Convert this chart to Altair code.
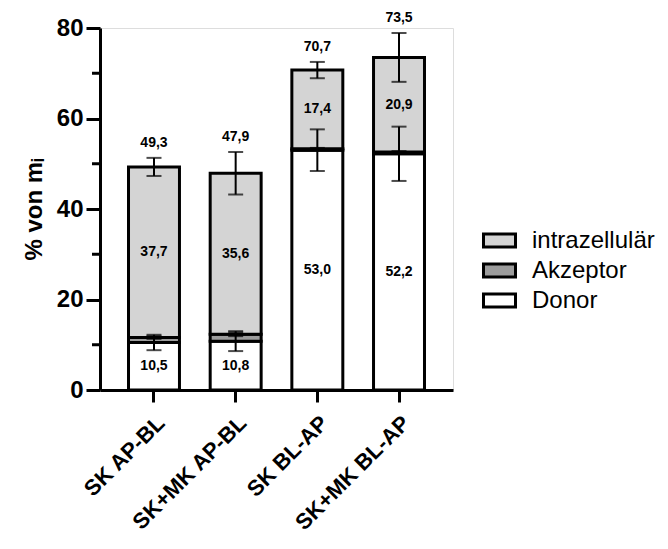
import altair as alt
import pandas as pd

groups = ["SK AP-BL", "SK+MK AP-BL", "SK BL-AP", "SK+MK BL-AP"]
donor = [10.5, 10.8, 53.0, 52.2]
donor_err = [1.7, 2.2, 4.6, 6.0]
akzeptor = [1.1, 1.5, 0.3, 0.4]
akzeptor_err = [0.3, 0.4, 0.2, 0.2]
intra = [37.7, 35.6, 17.4, 20.9]
intra_err = [2.0, 4.7, 1.8, 5.4]
minor_ticks = [10, 30, 50, 70]

series = ["Donor", "Akzeptor", "intrazellulär"]
vals = {"Donor": donor, "Akzeptor": akzeptor, "intrazellulär": intra}
errs = {"Donor": donor_err, "Akzeptor": akzeptor_err, "intrazellulär": intra_err}

rows = []
for i, g in enumerate(groups):
    base = 0.0
    for s in series:
        v = vals[s][i]
        rows.append({"group": g, "series": s, "value": v, "y0": base, "y1": base + v,
                     "mid": base + v / 2, "err": errs[s][i], "lo": base + v - errs[s][i],
                     "hi": base + v + errs[s][i]})
        base += v
df = pd.DataFrame(rows)
tot = df[df.series == "intrazellulär"].copy()

FONT = "Liberation Sans"
xenc = alt.X("group:N", sort=groups, title=None,
             scale=alt.Scale(paddingInner=0.376, paddingOuter=0.349),
             axis=alt.Axis(labelAngle=-45, labelFont=FONT, labelFontSize=22, labelFontWeight="bold",
                           labelColor="black", domainColor="black", domainWidth=3, tickColor="black",
                           tickWidth=3, tickSize=12, labelPadding=10, labelAlign="right", labelBaseline="top"))
yscale = alt.Scale(domain=[0, 80], nice=False)

bars = alt.Chart(df).mark_bar(stroke="black", strokeWidth=3, opacity=1).encode(
    x=xenc,
    y=alt.Y("y0:Q", scale=yscale,
            axis=alt.Axis(values=[0, 20, 40, 60, 80], title="% von mᵢ", titleFont=FONT, titleFontSize=24,
                          titleFontWeight="bold", titleColor="black", labelFont=FONT, labelFontSize=24,
                          labelFontWeight="bold", labelColor="black", domainColor="black", domainWidth=3,
                          tickColor="black", tickWidth=3, tickSize=14, grid=False, titlePadding=10,
                          labelPadding=3)),
    y2="y1:Q",
    color=alt.Color("series:N",
                    scale=alt.Scale(domain=["intrazellulär", "Akzeptor", "Donor"],
                                    range=["#d4d4d4", "#9c9c9c", "#ffffff"]),
                    legend=alt.Legend(title=None, orient="none", legendX=382, legendY=195, padding=0,
                                      symbolType="M-1,-0.4H1V0.4H-1Z", symbolSize=1024,
                                      symbolStrokeColor="black", symbolStrokeWidth=3, symbolOpacity=1,
                                      labelFont=FONT, labelFontSize=24, labelColor="black",
                                      labelOffset=15, rowPadding=-2)),
)

minor = alt.Chart(pd.DataFrame({"t": minor_ticks})).mark_rule(color="black", strokeWidth=3).encode(
    y=alt.Y("t:Q", scale=yscale), x=alt.value(-8), x2=alt.value(0))

rule = alt.Chart(df).mark_rule(color="black", strokeWidth=2).encode(
    x=alt.X("group:N", sort=groups), y=alt.Y("lo:Q", scale=yscale), y2="hi:Q")
cap_hi = alt.Chart(df).mark_tick(color="black", thickness=2, size=15).encode(
    x=alt.X("group:N", sort=groups), y=alt.Y("hi:Q", scale=yscale))
cap_lo = alt.Chart(df).mark_tick(color="black", thickness=2, size=15).encode(
    x=alt.X("group:N", sort=groups), y=alt.Y("lo:Q", scale=yscale))

seg_labels = alt.Chart(df[df.series != "Akzeptor"]).transform_calculate(
    lab="replace(format(datum.value, '.1f'), '.', ',')"
).mark_text(font=FONT, fontSize=14, fontWeight="bold", color="black").encode(
    x=alt.X("group:N", sort=groups), y=alt.Y("mid:Q", scale=yscale), text="lab:N")

tot_labels = alt.Chart(tot).transform_calculate(
    lab="replace(format(datum.y1, '.1f'), '.', ',')"
).mark_text(font=FONT, fontSize=14, fontWeight="bold", color="black", dy=-15).encode(
    x=alt.X("group:N", sort=groups), y=alt.Y("hi:Q", scale=yscale), text="lab:N")

chart = alt.layer(bars, minor, rule, cap_hi, cap_lo, seg_labels, tot_labels).properties(
    width=353, height=362,
    autosize=alt.AutoSizeParams(type="none"),
    padding={"left": 100, "top": 28, "right": 215, "bottom": 159},
).configure_view(stroke=None).configure(background="white")

chart.save("out.html", embed_options={"renderer": "svg", "actions": False})
